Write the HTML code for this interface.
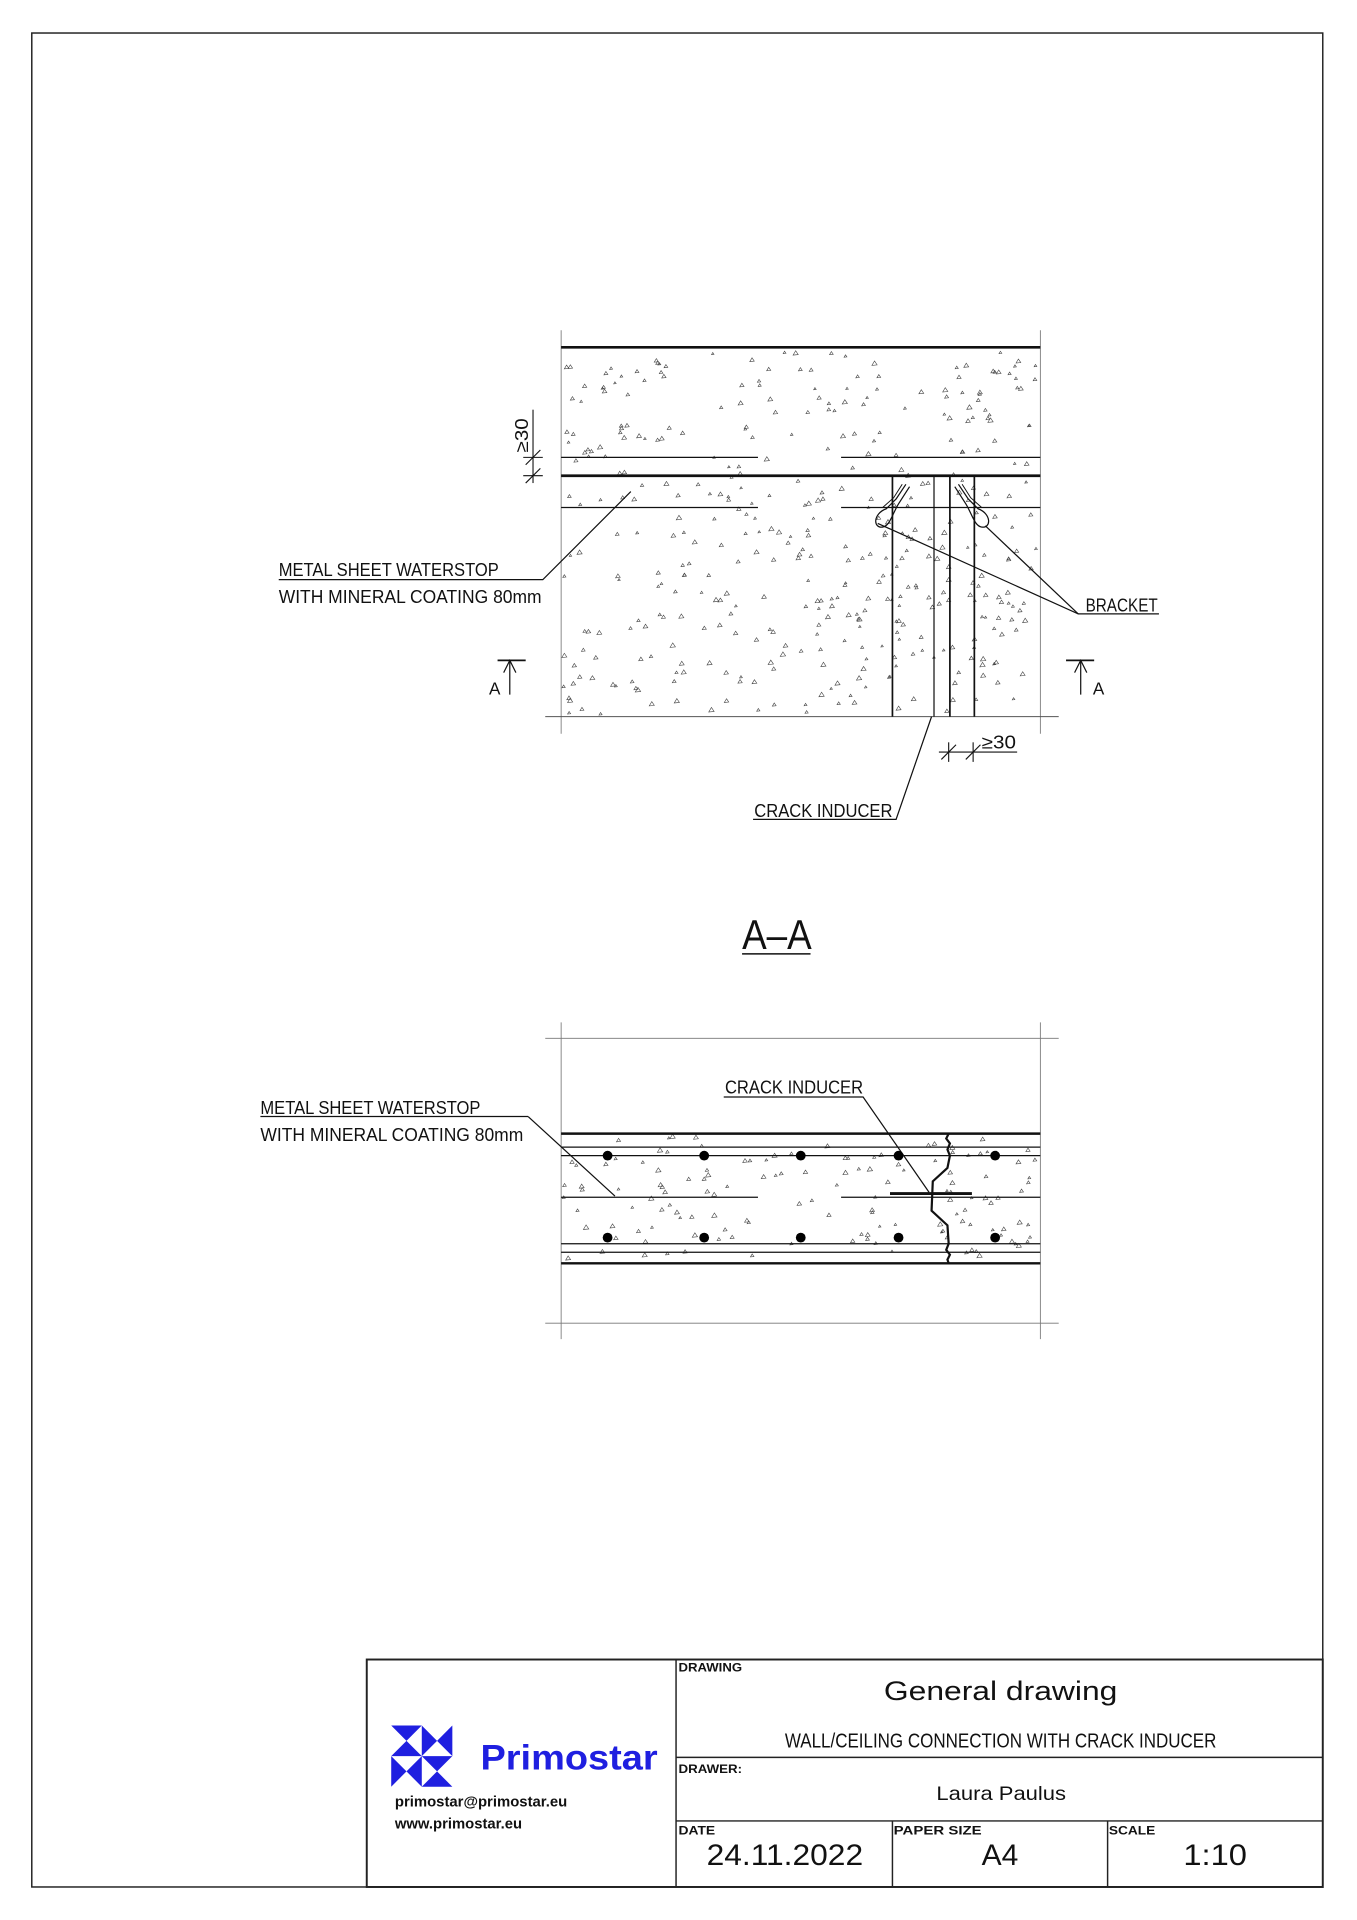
<!DOCTYPE html>
<html><head><meta charset="utf-8"><style>
html,body{margin:0;padding:0;background:#fff;}
svg{display:block;}
text{font-family:"Liberation Sans",sans-serif;fill:#111;}
</style></head><body>
<svg id="s" width="1357" height="1920" viewBox="0 0 1110 1570" preserveAspectRatio="none" xmlns="http://www.w3.org/2000/svg">
<rect x="0" y="0" width="1110" height="1570" fill="#fff"/>
<rect x="26" y="27" width="1056" height="1516" fill="none" stroke="#222" stroke-width="1.2"/>
<g id="speck" fill="none" stroke="#444" stroke-width="0.5"></g>
<!-- TOP DRAWING -->
<g stroke="#111" fill="none">
<line x1="459" y1="270" x2="459" y2="600" stroke-width="0.7" stroke="#777"/>
<line x1="851" y1="270" x2="851" y2="600" stroke-width="0.7" stroke="#777"/>
<line x1="459" y1="284" x2="851" y2="284" stroke-width="2.2"/>
<line x1="459" y1="374" x2="620" y2="374" stroke-width="1"/>
<line x1="688" y1="374" x2="851" y2="374" stroke-width="1"/>
<line x1="459" y1="389" x2="851" y2="389" stroke-width="2.2"/>
<line x1="459" y1="415" x2="620" y2="415" stroke-width="1"/>
<line x1="688" y1="415" x2="851" y2="415" stroke-width="1"/>
<line x1="446" y1="586" x2="866" y2="586" stroke-width="0.8" stroke="#555"/>
<line x1="730" y1="389" x2="730" y2="586" stroke-width="1.4"/>
<line x1="764" y1="389" x2="764" y2="586" stroke-width="1"/>
<line x1="777" y1="389" x2="777" y2="586" stroke-width="1.4"/>
<line x1="797" y1="389" x2="797" y2="586" stroke-width="1.4"/>
<path d="M741,396 L733,408 L725,416 C714,420 714,432 722,431 C728,430 730,420 735,412 L744,398" stroke-width="1"/>
<path d="M738,396 L731,407 L722,415" stroke-width="0.8"/>
<path d="M784,396 L792,408 L800,416 C811,420 811,432 803,431 C797,430 795,420 790,412 L781,398" stroke-width="1"/>
<path d="M787,396 L794,407 L803,415" stroke-width="0.8"/>
<polyline points="718,428 882,502 948,502" stroke-width="1"/>
<line x1="806" y1="430" x2="882" y2="502" stroke-width="1"/>
<line x1="436" y1="335" x2="436" y2="395" stroke-width="0.9"/>
<line x1="428" y1="374" x2="444" y2="374" stroke-width="0.9"/>
<line x1="428" y1="389" x2="444" y2="389" stroke-width="0.9"/>
<line x1="430" y1="380" x2="442" y2="368" stroke-width="0.9"/>
<line x1="430" y1="395" x2="442" y2="383" stroke-width="0.9"/>
<polyline points="516,402 444,474 228,474" stroke-width="1"/>
<line x1="407" y1="540" x2="430" y2="540" stroke-width="1.4"/>
<line x1="417" y1="540" x2="417" y2="568" stroke-width="1"/>
<polyline points="412,550 417,540 422,550" stroke-width="1"/>
<line x1="872" y1="540" x2="895" y2="540" stroke-width="1.4"/>
<line x1="884" y1="540" x2="884" y2="568" stroke-width="1"/>
<polyline points="879,550 884,540 889,550" stroke-width="1"/>
<polyline points="762,586 733,670 616,670" stroke-width="1"/>
<line x1="768" y1="615" x2="832" y2="615" stroke-width="0.9"/>
<line x1="776" y1="607" x2="776" y2="623" stroke-width="0.9"/>
<line x1="796" y1="607" x2="796" y2="623" stroke-width="0.9"/>
<line x1="770" y1="621" x2="782" y2="609" stroke-width="0.9"/>
<line x1="790" y1="621" x2="802" y2="609" stroke-width="0.9"/>
<line x1="607" y1="780" x2="663" y2="780" stroke-width="1.2"/>
</g>
<g font-size="15">
<text x="228" y="471" textLength="180" lengthAdjust="spacingAndGlyphs">METAL  SHEET  WATERSTOP</text>
<text x="228" y="493" textLength="215" lengthAdjust="spacingAndGlyphs">WITH  MINERAL  COATING  80mm</text>
<text x="888" y="500" textLength="59" lengthAdjust="spacingAndGlyphs">BRACKET</text>
<text x="617" y="668" textLength="113" lengthAdjust="spacingAndGlyphs">CRACK  INDUCER</text>
<text x="400" y="568" font-size="14">A</text>
<text x="894" y="568" font-size="14">A</text>
<text x="803" y="612" textLength="28" lengthAdjust="spacingAndGlyphs">≥30</text>
<text transform="translate(432,370) rotate(-90)" textLength="28" lengthAdjust="spacingAndGlyphs">≥30</text>
<text x="607" y="776" font-size="34" textLength="57" lengthAdjust="spacingAndGlyphs">A–A</text>
</g>
<!-- BOTTOM DRAWING -->
<g stroke="#111" fill="none">
<line x1="459" y1="836" x2="459" y2="1095" stroke-width="0.7" stroke="#777"/>
<line x1="851" y1="836" x2="851" y2="1095" stroke-width="0.7" stroke="#777"/>
<line x1="446" y1="849" x2="866" y2="849" stroke-width="0.7" stroke="#777"/>
<line x1="446" y1="1082" x2="866" y2="1082" stroke-width="0.7" stroke="#777"/>
<line x1="459" y1="927" x2="851" y2="927" stroke-width="2"/>
<line x1="459" y1="938" x2="851" y2="938" stroke-width="1"/>
<line x1="459" y1="945" x2="851" y2="945" stroke-width="1"/>
<line x1="459" y1="979" x2="620" y2="979" stroke-width="1"/>
<line x1="688" y1="979" x2="851" y2="979" stroke-width="1"/>
<line x1="459" y1="1017" x2="851" y2="1017" stroke-width="1"/>
<line x1="459" y1="1024" x2="851" y2="1024" stroke-width="1"/>
<line x1="459" y1="1033" x2="851" y2="1033" stroke-width="2"/>
<line x1="728" y1="976" x2="795" y2="976" stroke-width="2.4"/>
<path d="M776,927 L774,931 L777,935 L775,940 L777,945 L775,955 L763,966 L762,990 L775,1002 L776,1017 L774,1022 L777,1026 L775,1030 L776,1033" stroke-width="1.8"/>
<polyline points="432,913 213,913" stroke-width="1"/>
<line x1="432" y1="913" x2="503" y2="978" stroke-width="1"/>
<polyline points="592,897 706,897 760,975" stroke-width="1"/>
</g>
<g fill="#000">
<circle cx="497" cy="945" r="4"/><circle cx="576" cy="945" r="4"/><circle cx="655" cy="945" r="4"/><circle cx="735" cy="945" r="4"/><circle cx="814" cy="945" r="4"/>
<circle cx="497" cy="1012" r="4"/><circle cx="576" cy="1012" r="4"/><circle cx="655" cy="1012" r="4"/><circle cx="735" cy="1012" r="4"/><circle cx="814" cy="1012" r="4"/>
</g>
<g font-size="15">
<text x="213" y="911" textLength="180" lengthAdjust="spacingAndGlyphs">METAL  SHEET  WATERSTOP</text>
<text x="213" y="933" textLength="215" lengthAdjust="spacingAndGlyphs">WITH  MINERAL  COATING  80mm</text>
<text x="593" y="894" textLength="113" lengthAdjust="spacingAndGlyphs">CRACK  INDUCER</text>
</g>
<!-- TITLE BLOCK -->
<g stroke="#222" fill="none">
<rect x="300" y="1357" width="782" height="186" stroke-width="1.6"/>
<line x1="553" y1="1357" x2="553" y2="1543" stroke-width="1.2"/>
<line x1="553" y1="1437" x2="1082" y2="1437" stroke-width="1.2"/>
<line x1="553" y1="1489" x2="1082" y2="1489" stroke-width="1.2"/>
<line x1="730" y1="1489" x2="730" y2="1543" stroke-width="1.2"/>
<line x1="906" y1="1489" x2="906" y2="1543" stroke-width="1.2"/>
</g>
<g font-weight="bold" font-size="10">
<text x="555" y="1367" textLength="52" lengthAdjust="spacingAndGlyphs">DRAWING</text>
<text x="555" y="1450" textLength="52" lengthAdjust="spacingAndGlyphs">DRAWER:</text>
<text x="555" y="1500" textLength="30" lengthAdjust="spacingAndGlyphs">DATE</text>
<text x="731" y="1500" textLength="72" lengthAdjust="spacingAndGlyphs">PAPER  SIZE</text>
<text x="907" y="1500" textLength="38" lengthAdjust="spacingAndGlyphs">SCALE</text>
</g>
<text x="723" y="1390" font-size="22" textLength="191" lengthAdjust="spacingAndGlyphs">General  drawing</text>
<text x="642" y="1429" font-size="17" textLength="353" lengthAdjust="spacingAndGlyphs">WALL/CEILING  CONNECTION  WITH  CRACK  INDUCER</text>
<text x="766" y="1472" font-size="16" textLength="106" lengthAdjust="spacingAndGlyphs">Laura  Paulus</text>
<text x="578" y="1525" font-size="24" textLength="128" lengthAdjust="spacingAndGlyphs">24.11.2022</text>
<text x="803" y="1525" font-size="24" textLength="30" lengthAdjust="spacingAndGlyphs">A4</text>
<text x="968" y="1525" font-size="24" textLength="52" lengthAdjust="spacingAndGlyphs">1:10</text>
<g fill="#1f1fe0">
<polygon points="320,1411 345,1411 332.5,1423.5"/>
<polygon points="320,1436 345,1436 332.5,1423.5"/>
<polygon points="345,1411 345,1436 357.5,1423.5"/>
<polygon points="370,1411 370,1436 357.5,1423.5"/>
<polygon points="320,1436 320,1461 332.5,1448.5"/>
<polygon points="345,1436 345,1461 332.5,1448.5"/>
<polygon points="345,1436 370,1436 357.5,1448.5"/>
<polygon points="345,1461 370,1461 357.5,1448.5"/>
<text x="393" y="1447" font-size="29" font-weight="bold" style="fill:#1f1fe0" textLength="145" lengthAdjust="spacingAndGlyphs">Primostar</text>
</g>
<text x="323" y="1477" font-size="12" font-weight="bold" textLength="141" lengthAdjust="spacingAndGlyphs">primostar@primostar.eu</text>
<text x="323" y="1495" font-size="12" font-weight="bold" textLength="104" lengthAdjust="spacingAndGlyphs">www.primostar.eu</text>
</svg>
<script>
(function(){
var g=document.getElementById('speck');var seed=7;
function r(){seed=(seed*16807)%2147483647;return seed/2147483647;}
function fill(x0,y0,x1,y1,n){
for(var i=0;i<n;i++){var x=x0+r()*(x1-x0),y=y0+r()*(y1-y0),s=1.0+r()*1.2;
var p=document.createElementNS('http://www.w3.org/2000/svg','polygon');
p.setAttribute('points',(x)+','+(y-s)+' '+(x-s)+','+(y+s*0.7)+' '+(x+s)+','+(y+s*0.5));
g.appendChild(p);}}
fill(461,288,849,585,420);
fill(461,929,849,1031,140);
})();
</script>
</body></html>
